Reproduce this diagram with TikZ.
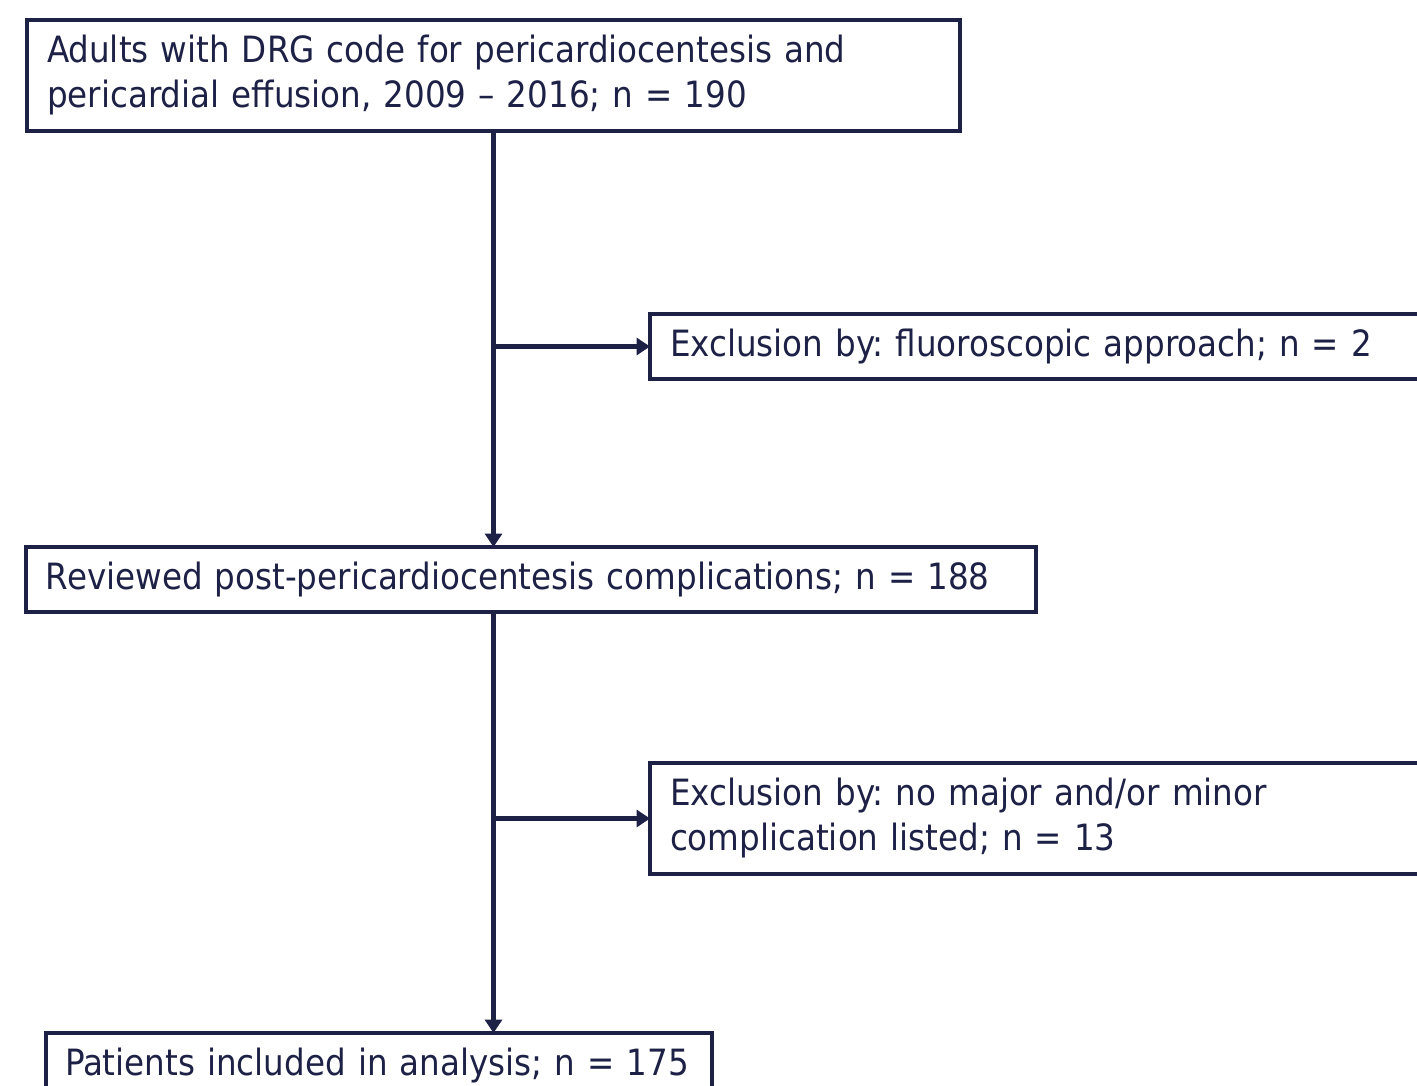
\documentclass[tikz,border=0pt]{standalone}
\usepackage{fontspec}
\setmainfont{DejaVu Sans Condensed}
\usepackage{tikz}
\usetikzlibrary{arrows.meta}
\definecolor{navy}{HTML}{1E2146}
\frenchspacing

\begin{document}
\begin{tikzpicture}
            \tikzset{box/.style={draw=navy, line width=1.2pt, anchor=north west, inner xsep=0.2cm, inner ysep=0pt,
                outer sep=0pt, text=navy, align=left, font=\fontsize{10.3}{12.8}\selectfont},
                flow/.style={draw=navy, line width=1.2pt, -{Triangle[length=3.8pt,width=4.8pt]}}}
            \useasboundingbox (0,0) rectangle (14.17,-10.86);
            \clip (0,0) rectangle (14.17,-10.86);
            \node[box, minimum width=9.33cm, minimum height=1.11cm, text width=8.93cm] (adults) at (0.27,-0.20)
                {Adults with DRG code for pericardiocentesis and\\pericardial effusion, 2009 – 2016; n = 190};
            \node[box, minimum width=9cm, minimum height=0.65cm, text width=8.6cm] (fluoro) at (6.50,-3.14)
                {Exclusion by: fluoroscopic approach; n = 2};
            \node[box, minimum width=10.10cm, minimum height=0.65cm, text width=9.7cm] (reviewed) at (0.26,-5.47)
                {Reviewed post-pericardiocentesis complications; n = 188};
            \node[box, minimum width=9cm, minimum height=1.11cm, text width=8.6cm] (nocomp) at (6.50,-7.63)
                {Exclusion by: no major and/or minor\\complication listed; n = 13};
            \node[box, inner xsep=0.19cm, minimum width=6.66cm, minimum height=0.65cm, text width=6.28cm] (included) at (0.46,-10.33)
                {Patients included in analysis; n = 175};
            \draw[flow] (adults.south) -- (adults.south |- reviewed.north);
            \draw[flow] (adults.south |- fluoro.west) -- (fluoro.west);
            \draw[flow] (adults.south |- reviewed.south) -- (adults.south |- included.north);
            \draw[flow] (adults.south |- nocomp.west) -- (nocomp.west);
        \end{tikzpicture}
\end{document}
